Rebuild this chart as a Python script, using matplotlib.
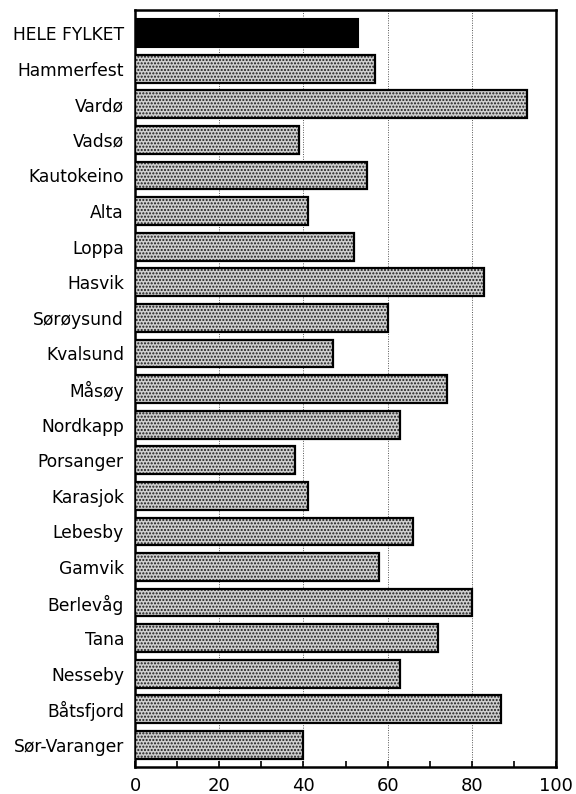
import matplotlib
matplotlib.use("Agg")
import matplotlib.pyplot as plt
from matplotlib.ticker import MultipleLocator

categories = ["HELE FYLKET", "Hammerfest", "Vardø", "Vadsø", "Kautokeino", "Alta",
              "Loppa", "Hasvik", "Sørøysund", "Kvalsund", "Måsøy", "Nordkapp",
              "Porsanger", "Karasjok", "Lebesby", "Gamvik", "Berlevåg", "Tana",
              "Nesseby", "Båtsfjord", "Sør-Varanger"]
values = [53, 57, 93, 39, 55, 41, 52, 83, 60, 47, 74, 63, 38, 41, 66, 58, 80, 72, 63, 87, 40]
xticks = [0, 20, 40, 60, 80, 100]

plt.rcParams['font.family'] = ['DejaVu Sans']
plt.rcParams['hatch.linewidth'] = 1.0

fig = plt.figure(figsize=(5.76, 7.94), dpi=100)
ax = fig.add_axes([0.2344, 0.034, 0.7309, 0.9534])

ypos = list(range(len(categories)))
for i, (c, v) in enumerate(zip(categories, values)):
    if i == 0:
        ax.barh(i, v, height=0.78, color='black', edgecolor='black', linewidth=1.5, zorder=3)
    else:
        ax.barh(i, v, height=0.78, color='#cfcfcf', edgecolor='#1a1a1a', hatch='.....',
                linewidth=0, zorder=3)
        ax.barh(i, v, height=0.78, fill=False, edgecolor='black', linewidth=1.6, zorder=4)

ax.set_xlim(0, 100)
ax.set_ylim(20.62, -0.65)
ax.set_yticks(ypos)
ax.set_yticklabels(categories, fontsize=12.3)
ax.tick_params(axis='y', length=0, pad=8)
ax.set_xticks(xticks)
ax.set_xticklabels([str(t) for t in xticks], fontsize=13)
ax.xaxis.set_minor_locator(MultipleLocator(10))
ax.tick_params(axis='x', which='both', direction='in', length=4, width=1.2, pad=7, top=False)

for g in [20, 40, 60, 80]:
    ax.axvline(g, color='#555555', linestyle=(0, (1, 1.5)), linewidth=0.7, zorder=1)

for s in ax.spines.values():
    s.set_linewidth(1.8)

fig.savefig("out.png", dpi=100)
